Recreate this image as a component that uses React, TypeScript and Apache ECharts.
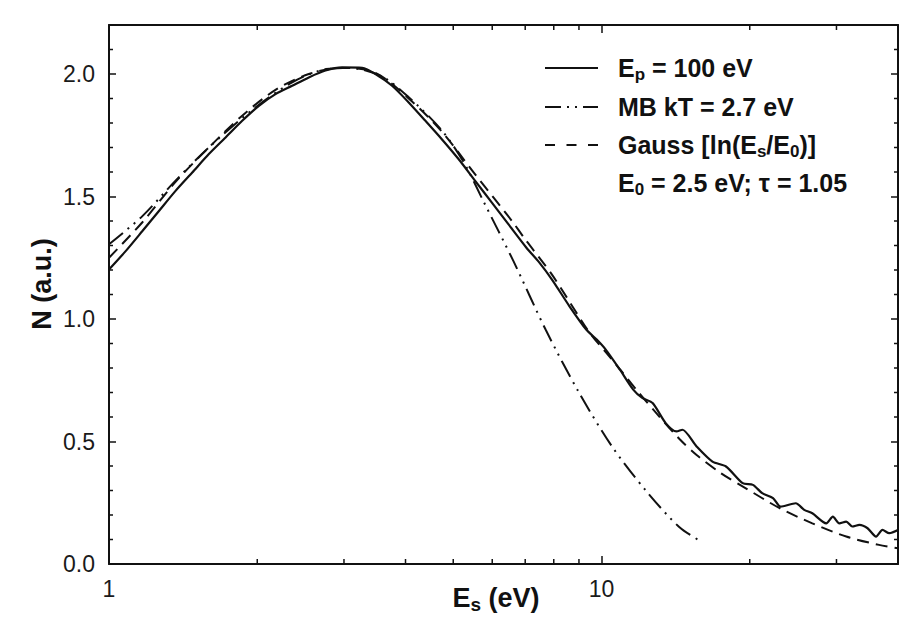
import React, { useEffect, useRef } from 'react';
import * as echarts from 'echarts';

// Measured spectrum, E_p = 100 eV (solid)
const measuredE = [1.0, 1.081, 1.169, 1.263, 1.365, 1.476, 1.595, 1.725, 1.864, 2.015, 2.178, 2.354, 2.545, 2.751, 2.973, 3.265, 3.475, 3.756, 4.06, 4.39, 4.74, 5.13, 5.54, 5.99, 6.47, 7.04, 7.48, 7.94, 8.61, 9.31, 9.78, 10.2, 10.9, 11.6, 12.1, 12.7, 13.5, 14.2, 14.6, 15.6, 16.8, 17.9, 19.35, 20.3, 21.2, 22.3, 23.1, 24.8, 25.8, 26.8, 28.6, 29.5, 30.4, 31.4, 32.3, 33.4, 34.7, 36.1, 37.2, 38.4, 40];
const measuredN = [1.202, 1.277, 1.359, 1.441, 1.523, 1.598, 1.673, 1.741, 1.809, 1.870, 1.918, 1.952, 1.986, 2.014, 2.027, 2.025, 2.0, 1.952, 1.884, 1.809, 1.734, 1.652, 1.564, 1.475, 1.387, 1.291, 1.23, 1.16, 1.052, 0.957, 0.916, 0.875, 0.793, 0.712, 0.678, 0.657, 0.575, 0.541, 0.548, 0.48, 0.418, 0.398, 0.330, 0.323, 0.289, 0.269, 0.234, 0.248, 0.221, 0.207, 0.166, 0.193, 0.166, 0.173, 0.153, 0.160, 0.146, 0.112, 0.139, 0.126, 0.139];

// Maxwell-Boltzmann kT = 2.7 eV (dash-dot-dot)
const mbE = [1.0, 1.169, 1.365, 1.595, 1.93, 2.35, 2.76, 3.07, 3.58, 4.06, 4.74, 5.25, 5.76, 6.63, 7.7, 9.0, 10.5, 12.3, 14.4, 16.0];
const mbN = [1.305, 1.42, 1.565, 1.70, 1.845, 1.965, 2.02, 2.025, 1.99, 1.905, 1.77, 1.64, 1.48, 1.235, 0.957, 0.70, 0.48, 0.30, 0.15, 0.09];

// Gauss [ln(Es/E0)] (dashed)
const gaussE = [1.0, 1.169, 1.365, 1.595, 1.864, 2.178, 2.545, 2.973, 3.475, 4.06, 4.74, 5.54, 6.58, 7.0, 7.94, 9.45, 10.2, 11.0, 11.76, 13.0, 14.4, 15.6, 17.5, 19.6, 23.0, 26.8, 31.4, 36.6, 40];
const gaussN = [1.25, 1.395, 1.56, 1.70, 1.83, 1.935, 2.0, 2.025, 2.005, 1.90, 1.765, 1.59, 1.40, 1.325, 1.18, 0.945, 0.865, 0.785, 0.712, 0.61, 0.51, 0.445, 0.37, 0.31, 0.228, 0.166, 0.112, 0.078, 0.064];

// Axis ticks
const xLabelValues = [1, 10];
const xMinorTicks = [2, 3, 4, 5, 6, 7, 8, 9, 20, 30];
const yMinorTicks = [0.1, 0.2, 0.3, 0.4, 0.6, 0.7, 0.8, 0.9, 1.1, 1.2, 1.3, 1.4, 1.6, 1.7, 1.8, 1.9, 2.1];
const X_MIN = 1;
const X_MAX = 40;
const Y_MIN = 0;
const Y_MAX = 2.2;
const Y_INTERVAL = 0.5;

const zip = (xs: number[], ys: number[]) => xs.map((x, i) => [x, ys[i]]);

export default function App() {
  const ref = useRef<HTMLDivElement>(null);
  useEffect(() => {
    const chart = echarts.init(ref.current!, null, { renderer: 'svg' });
    const ink = '#111';
    const FF = '"Liberation Sans", Arial, Helvetica, sans-serif';

    const axisLineStyle = { color: ink, width: 2 };
    const tickStyle = { color: ink, width: 1.5 };

    const xFormatter = (v: number) => {
      const hit = xLabelValues.find((t) => Math.abs(t - v) < 1e-6 * t);
      return hit !== undefined ? String(hit) : '';
    };
    const yFormatter = (v: number) => {
      const r = v / Y_INTERVAL;
      return Math.abs(r - Math.round(r)) < 1e-6 ? v.toFixed(1) : '';
    };

    const legendRich = {
      m: { fontSize: 25, fontWeight: 'bold', fontFamily: FF, lineHeight: 30, fill: ink },
      s: { fontSize: 17, fontWeight: 'bold', fontFamily: FF, lineHeight: 20, verticalAlign: 'bottom', fill: ink },
    };
    const titleRich = {
      m: { fontSize: 27, fontWeight: 'bold', fontFamily: FF, lineHeight: 32, fill: ink },
      s: { fontSize: 19, fontWeight: 'bold', fontFamily: FF, lineHeight: 20, verticalAlign: 'bottom', fill: ink },
    };

    const legendX1 = 545;
    const legendX2 = 598;
    const legendTextX = 618;
    const rows = [68, 107, 145, 183];

    const option: any = {
      animation: false,
      backgroundColor: '#fff',
      grid: { left: 109, right: 14, top: 25, bottom: 59 },
      xAxis: [
        {
          type: 'log', logBase: 10, min: X_MIN, max: X_MAX, position: 'bottom',
          axisLine: { show: true, onZero: false, lineStyle: axisLineStyle },
          axisTick: { show: true, inside: true, length: 8, lineStyle: tickStyle },
          axisLabel: { show: true, margin: 13, formatter: xFormatter, fontFamily: FF, fontSize: 23, color: '#1a1a1a' },
          splitLine: { show: false },
        },
        {
          type: 'log', logBase: 10, min: X_MIN, max: X_MAX, position: 'top',
          axisLine: { show: true, onZero: false, lineStyle: axisLineStyle },
          axisTick: { show: true, inside: true, length: 8, lineStyle: tickStyle },
          axisLabel: { show: false },
          splitLine: { show: false },
        },
      ],
      yAxis: [
        {
          type: 'value', min: Y_MIN, max: Y_MAX, interval: Y_INTERVAL, position: 'left',
          axisLine: { show: true, onZero: false, lineStyle: axisLineStyle },
          axisTick: { show: true, inside: true, length: 7, lineStyle: tickStyle },
          axisLabel: { show: true, margin: 14, formatter: yFormatter, fontFamily: FF, fontSize: 23, color: '#1a1a1a' },
          splitLine: { show: false },
        },
        {
          type: 'value', min: Y_MIN, max: Y_MAX, interval: Y_INTERVAL, position: 'right',
          axisLine: { show: true, onZero: false, lineStyle: axisLineStyle },
          axisTick: { show: true, inside: true, length: 7, lineStyle: tickStyle },
          axisLabel: { show: false },
          splitLine: { show: false },
        },
      ],
      series: [
        {
          name: 'E_p = 100 eV', type: 'line', data: zip(measuredE, measuredN),
          showSymbol: false, smooth: 0.25, lineStyle: { color: ink, width: 2.2 }, z: 5,
        },
        {
          name: 'MB kT = 2.7 eV', type: 'line', data: zip(mbE, mbN),
          showSymbol: false, smooth: 0.3, lineStyle: { color: ink, width: 2, type: [18, 6, 2, 6, 2, 6] }, z: 4,
        },
        {
          name: 'Gauss', type: 'line', data: zip(gaussE, gaussN),
          showSymbol: false, smooth: 0.3, lineStyle: { color: ink, width: 2, type: [12, 7] }, z: 4,
        },
        {
          name: 'xMinor', type: 'custom', silent: true, clip: false, z: 6,
          data: xMinorTicks.map((v) => [v, Y_MIN]),
          renderItem: (params: any, api: any) => {
            const v = api.value(0);
            const b = api.coord([v, Y_MIN]);
            const t = api.coord([v, Y_MAX]);
            return {
              type: 'group',
              children: [
                { type: 'line', shape: { x1: b[0], y1: b[1], x2: b[0], y2: b[1] - 5 }, style: { stroke: ink, lineWidth: 1.5 } },
                { type: 'line', shape: { x1: t[0], y1: t[1], x2: t[0], y2: t[1] + 5 }, style: { stroke: ink, lineWidth: 1.5 } },
              ],
            };
          },
        },
        {
          name: 'yMinor', type: 'custom', silent: true, clip: false, z: 6,
          data: yMinorTicks.map((v) => [X_MIN, v]),
          renderItem: (params: any, api: any) => {
            const v = api.value(1);
            const l = api.coord([X_MIN, v]);
            const r = api.coord([X_MAX, v]);
            return {
              type: 'group',
              children: [
                { type: 'line', shape: { x1: l[0], y1: l[1], x2: l[0] + 4, y2: l[1] }, style: { stroke: ink, lineWidth: 1.5 } },
                { type: 'line', shape: { x1: r[0], y1: r[1], x2: r[0] - 4, y2: r[1] }, style: { stroke: ink, lineWidth: 1.5 } },
              ],
            };
          },
        },
      ],
      graphic: [
        // axis titles
        {
          type: 'text', x: 496, y: 598,
          style: { text: '{m|E}{s|s}{m| (eV)}', rich: titleRich, align: 'center', verticalAlign: 'middle', fill: ink },
        },
        {
          type: 'text', x: 42, y: 284, rotation: Math.PI / 2,
          style: { text: 'N (a.u.)', fontSize: 27, fontWeight: 'bold', fontFamily: FF, align: 'center', verticalAlign: 'middle', fill: ink },
        },
        // legend samples
        { type: 'line', shape: { x1: legendX1, y1: rows[0], x2: legendX2, y2: rows[0] }, style: { stroke: ink, lineWidth: 2 } },
        { type: 'line', shape: { x1: legendX1, y1: rows[1], x2: legendX2, y2: rows[1] }, style: { stroke: ink, lineWidth: 2, lineDash: [16, 6, 2, 6, 2, 6] } },
        { type: 'line', shape: { x1: legendX1, y1: rows[2], x2: legendX2, y2: rows[2] }, style: { stroke: ink, lineWidth: 2, lineDash: [10, 11.5] } },
        // legend texts
        { type: 'text', x: legendTextX, y: rows[0], style: { text: '{m|E}{s|p}{m| = 100 eV}', rich: legendRich, align: 'left', verticalAlign: 'middle', fill: ink } },
        { type: 'text', x: legendTextX, y: rows[1], style: { text: '{m|MB kT = 2.7 eV}', rich: legendRich, align: 'left', verticalAlign: 'middle', fill: ink } },
        { type: 'text', x: legendTextX, y: rows[2], style: { text: '{m|Gauss [ln(E}{s|s}{m|/E}{s|0}{m|)]}', rich: legendRich, align: 'left', verticalAlign: 'middle', fill: ink } },
        { type: 'text', x: legendTextX, y: rows[3], style: { text: '{m|E}{s|0}{m| = 2.5 eV; τ = 1.05}', rich: legendRich, align: 'left', verticalAlign: 'middle', fill: ink } },
      ],
    };
    chart.setOption(option);
    return () => chart.dispose();
  }, []);
  return (
    <div
      ref={ref}
      style={{ position: 'absolute', left: 0, top: 0, width: 912, height: 623, background: '#fff' }}
    />
  );
}
